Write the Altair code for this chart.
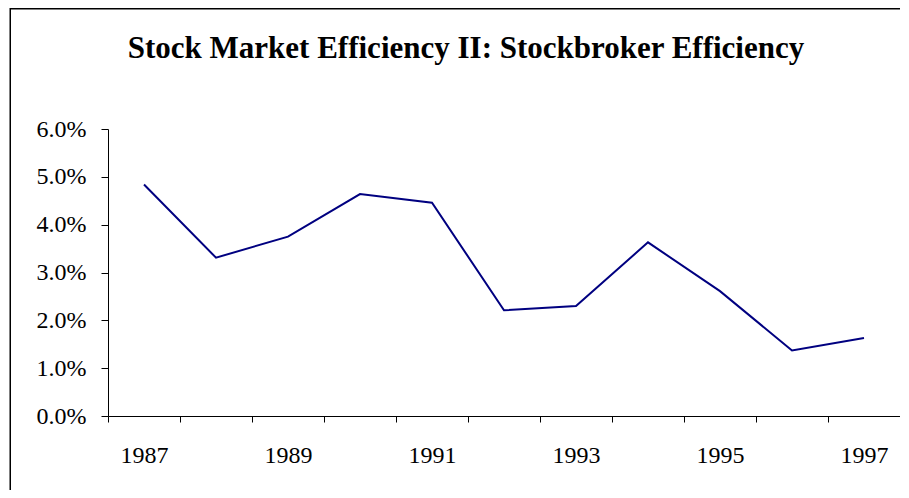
import altair as alt
import pandas as pd

TITLE = "Stock Market Efficiency II: Stockbroker Efficiency"
YEARS = [1987, 1988, 1989, 1990, 1991, 1992, 1993, 1994, 1995, 1996, 1997]
VALUES = [0.0484, 0.0331, 0.0375, 0.0464, 0.0446, 0.0221, 0.0230, 0.0363, 0.0261, 0.0137, 0.0163]
X_LABELS = [1987, 1989, 1991, 1993, 1995, 1997]
Y_TICKS = [0.0, 0.01, 0.02, 0.03, 0.04, 0.05, 0.06]

W, H = 792, 287
PAD_L, PAD_T, PAD_R, PAD_B = 100, 121, 0, 74

df = pd.DataFrame({"year": YEARS, "value": VALUES})
tdf = pd.DataFrame({"t": [TITLE]})

label_list = "[" + ",".join(str(v) for v in X_LABELS) + "]"

line = alt.Chart(df).mark_line(color="#000080", strokeWidth=2).encode(
    x=alt.X(
        "year:O",
        bandPosition=0.5,
        scale=alt.Scale(type="band", paddingInner=0, paddingOuter=0),
        axis=alt.Axis(
            title=None,
            tickBand="extent",
            labelAngle=0,
            labelExpr=f"indexof({label_list}, +datum.value) >= 0 ? datum.label : ''",
            labelOverlap=False,
            labelFlush=False,
            tickSize=6,
            labelPadding=21,
            domainColor="black",
            tickColor="black",
        ),
    ),
    y=alt.Y(
        "value:Q",
        scale=alt.Scale(domain=[0, 0.06], nice=False, zero=True),
        axis=alt.Axis(
            title=None,
            values=Y_TICKS,
            format=".1%",
            grid=False,
            tickSize=7,
            labelPadding=15,
            domainColor="black",
            tickColor="black",
        ),
    ),
)

title = alt.Chart(tdf).mark_text(
    font="Liberation Serif",
    fontSize=31,
    fontWeight="bold",
    color="black",
    align="center",
    baseline="alphabetic",
).encode(text="t:N", x=alt.value(358), y=alt.value(-71))

top_border = alt.Chart(tdf).mark_rule(color="black", strokeWidth=1.5).encode(
    x=alt.value(-98), x2=alt.value(W + 20), y=alt.value(-PAD_T + 0.75)
)
left_border = alt.Chart(tdf).mark_rule(color="black", strokeWidth=1.5).encode(
    x=alt.value(-97.75), y=alt.value(-PAD_T), y2=alt.value(H + PAD_B + 5)
)

chart = alt.layer(line, title, top_border, left_border).properties(
    width=W,
    height=H,
    autosize=alt.AutoSizeParams(type="none"),
    padding={"left": PAD_L, "top": PAD_T, "right": PAD_R, "bottom": PAD_B},
    background="white",
).configure_view(stroke=None).configure_axis(
    labelFont="Liberation Serif",
    labelFontSize=24,
    labelColor="black",
    domainWidth=1,
    tickWidth=1,
)

chart.save("out.html", embed_options={"renderer": "svg", "actions": False})
